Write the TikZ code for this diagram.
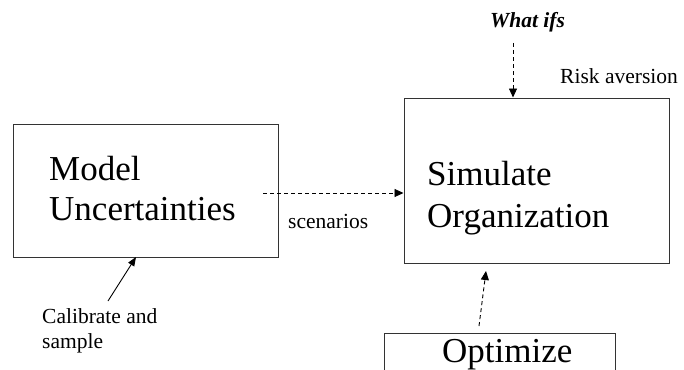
\documentclass[tikz,border=0pt]{standalone}
\usepackage{fontspec}
\setmainfont{Liberation Serif}
\usetikzlibrary{arrows.meta}
\begin{document}
\begin{tikzpicture}[x=1pt,y=-1pt,
  box/.style={draw=black!80,line width=1pt,inner sep=0pt},
  bigtext/.style={font=\fontsize{35}{41}\selectfont,anchor=base west,inner sep=0pt},
  smalltext/.style={font=\fontsize{21.5}{24}\selectfont,anchor=base west,inner sep=0pt},
  dasharrow/.style={line width=0.9pt,dash pattern=on 4pt off 3pt,-{Triangle[length=9pt,width=8pt]}},
  solidarrow/.style={line width=0.9pt,-{Triangle[length=9pt,width=7pt]}}]
\useasboundingbox (0,0) rectangle (684,369);
\clip (0,0) rectangle (684,369);
% boxes
\node[box,minimum width=265pt,minimum height=133pt] (mu) at (145.5,190.5) {};
\node[box,minimum width=265pt,minimum height=165pt] (so) at (536.5,180.5) {};
\node[box,minimum width=231pt,minimum height=80pt] (op) at (499.5,373) {};
% texts
\node[bigtext] (mu1) at (49,180) {Model};
\node[bigtext] (mu2) at (49,220) {Uncertainties};
\node[bigtext] (so1) at (427,185) {Simulate};
\node[bigtext] (so2) at (427,227) {Organization};
\node[bigtext] (op1) at (442,362) {Optimize};
\node[smalltext] (sc) at (288,228) {scenarios};
\node[smalltext,font=\fontsize{21.5}{24}\selectfont\bfseries\itshape] (wi) at (490,28) {What ifs};
\node[smalltext] (ra) at (560,83) {Risk aversion};
\node[smalltext] (ca1) at (42,323) {Calibrate and};
\node[smalltext] (ca2) at (42,348) {sample};
% connectors
\coordinate (scstart) at (263,193);
\draw[dasharrow] (scstart) -- (so.west |- scstart);
\coordinate (wistart) at (513,43);
\draw[dasharrow] (wistart) -- (so.north -| wistart);
\coordinate (castart) at (108,301);
\coordinate (caend) at (136,257);
\draw[solidarrow] (castart) -- (caend);
\coordinate (opstart) at (479,326);
\coordinate (opend) at (486,271);
\draw[dasharrow] (opstart) -- (opend);
\end{tikzpicture}
\end{document}
